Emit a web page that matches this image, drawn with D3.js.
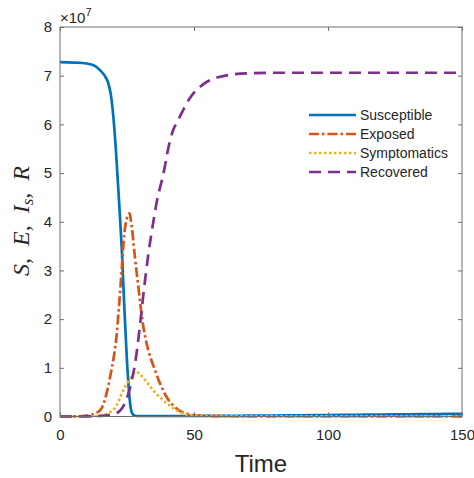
<!DOCTYPE html>
<html>
<head>
<meta charset="utf-8">
<script src="https://cdn.jsdelivr.net/npm/d3@7"></script>
<style>
  body { margin: 0; background: #fff; }
  text { font-family: "Liberation Sans", Arial, sans-serif; fill: #262626; }
</style>
</head>
<body>
<div id="chart"></div>
<script>
// values in units of 1e7
var time = [0, 5, 10, 13, 15, 16, 17, 18, 19, 20, 21, 22, 23, 24, 25, 25.5, 26, 26.5, 27, 27.5, 28, 29, 30,
  31, 32, 33, 34, 35, 36, 37, 38, 39, 40, 42, 44, 46, 48, 50, 52, 55, 58, 60, 65, 70, 80, 90, 100, 110, 120, 130, 140, 150];

var susceptible = [7.28, 7.27, 7.25, 7.2, 7.11, 7.05, 6.97, 6.85, 6.6, 6.1, 5.35, 4.45, 3.5, 2.25, 1.12, 0.7, 0.35, 0.14, 0.06, 0.03,
  0.015, 0.01, 0.01, 0.01, 0.01, 0.01, 0.01, 0.01, 0.01, 0.01, 0.01, 0.01, 0.01, 0.01, 0.01, 0.01, 0.011, 0.011, 0.011, 0.012, 0.012,
  0.012, 0.014, 0.016, 0.02, 0.025, 0.03, 0.035, 0.04, 0.045, 0.05, 0.055];

var exposed = [0, 0.002, 0.02, 0.06, 0.13, 0.22, 0.4, 0.62, 0.9, 1.2, 1.6, 2.25, 3.0, 3.75, 4.08, 4.15, 4.17, 4.0, 3.8, 3.52,
  3.25, 2.78, 2.3, 1.88, 1.58, 1.35, 1.17, 1.02, 0.87, 0.72, 0.6, 0.48, 0.38, 0.24, 0.14, 0.08, 0.05, 0.03, 0.02, 0.012, 0.008,
  0.006, 0.005, 0.004, 0.004, 0.004, 0.004, 0.004, 0.004, 0.004, 0.004, 0.004];

var symptomatic = [0, 0, 0.003, 0.01, 0.02, 0.03, 0.05, 0.07, 0.1, 0.14, 0.22, 0.33, 0.47, 0.58, 0.68, 0.73, 0.78, 0.82, 0.86, 0.88,
  0.9, 0.9, 0.86, 0.8, 0.73, 0.66, 0.59, 0.52, 0.46, 0.41, 0.36, 0.31, 0.27, 0.18, 0.11, 0.06, 0.03, 0.02, 0.014, 0.01, 0.007,
  0.006, 0.005, 0.004, 0.004, 0.004, 0.004, 0.004, 0.004, 0.004, 0.004, 0.004];

var recovered = [0, 0, 0.002, 0.005, 0.01, 0.015, 0.02, 0.03, 0.04, 0.05, 0.07, 0.1, 0.16, 0.25, 0.38, 0.47, 0.56, 0.67, 0.8, 0.93,
  1.08, 1.48, 1.95, 2.45, 2.92, 3.35, 3.72, 4.05, 4.38, 4.63, 4.85, 5.1, 5.4, 5.85, 6.08, 6.3, 6.5, 6.65, 6.76, 6.88, 6.95,
  6.98, 7.03, 7.05, 7.06, 7.06, 7.06, 7.06, 7.06, 7.06, 7.06, 7.06];

var xTicks = [0, 50, 100, 150];
var yTicks = [0, 1, 2, 3, 4, 5, 6, 7, 8];

var seriesNames = ["Susceptible", "Exposed", "Symptomatics", "Recovered"];
var seriesValues = [susceptible, exposed, symptomatic, recovered];
var seriesColors = ["#0072BD", "#D95319", "#EDB120", "#7E2F8E"];
var seriesDash = [null, "10,3,2.5,3", "2.5,2.5", "12,7"];

var svgWidth = 474;
var svgHeight = 478;
var margin = { top: 27, right: 12, bottom: 61.5, left: 60 };
var width = svgWidth - margin.left - margin.right;
var height = svgHeight - margin.top - margin.bottom;

var svg = d3.select("#chart")
  .append("svg")
  .attr("width", svgWidth)
  .attr("height", svgHeight);

var chartGroup = svg.append("g")
  .attr("transform", `translate(${margin.left},${margin.top})`);

var xScale = d3.scaleLinear().domain([0, 150]).range([0, width]);
var yScale = d3.scaleLinear().domain([0, 8]).range([height, 0]);

// lines
var line = d3.line()
  .x((d, i) => xScale(time[i]))
  .y(d => yScale(d))
  .curve(d3.curveMonotoneX);

var plotGroup = chartGroup.append("g");
// draw order: S, E, I, R
seriesValues.forEach(function(vals, k) {
  plotGroup.append("path")
    .datum(vals)
    .attr("d", line)
    .attr("fill", "none")
    .attr("stroke", seriesColors[k])
    .attr("stroke-width", 2.7)
    .attr("stroke-dasharray", seriesDash[k]);
});

// axes (ticks inside, mirrored box)
var axisColor = "#6e6e6e";
function styleAxis(g) {
  g.select(".domain").remove();
  g.selectAll(".tick line").attr("stroke", axisColor);
  g.selectAll(".tick text").attr("fill", "#262626").style("font-size", "15px")
    .style("font-family", "'Liberation Sans', Arial, sans-serif");
}

chartGroup.append("g")
  .attr("transform", `translate(0,${height})`)
  .call(d3.axisBottom(xScale).tickValues(xTicks).tickSize(-4).tickPadding(13))
  .call(styleAxis);

chartGroup.append("g")
  .call(d3.axisTop(xScale).tickValues(xTicks).tickSize(-4).tickFormat(""))
  .call(styleAxis);

chartGroup.append("g")
  .call(d3.axisLeft(yScale).tickValues(yTicks).tickSize(-4).tickPadding(8))
  .call(styleAxis);

chartGroup.append("g")
  .attr("transform", `translate(${width},0)`)
  .call(d3.axisRight(yScale).tickValues(yTicks).tickSize(-4).tickFormat(""))
  .call(styleAxis);

chartGroup.append("rect")
  .attr("x", 0).attr("y", 0)
  .attr("width", width).attr("height", height)
  .attr("fill", "none")
  .attr("stroke", axisColor)
  .attr("stroke-width", 1);

// exponent label
var expLabel = chartGroup.append("text")
  .attr("x", 0)
  .attr("y", -4)
  .style("font-size", "15px")
  .attr("fill", "#404040");
expLabel.append("tspan").text("\u00d710");
expLabel.append("tspan").attr("dy", -7).style("font-size", "11px").text("7");

// axis titles
chartGroup.append("text")
  .attr("x", width / 2)
  .attr("y", height + 55)
  .attr("text-anchor", "middle")
  .style("font-size", "24px")
  .text("Time");

var yLabel = svg.append("text")
  .attr("transform", "translate(29,221) rotate(-90)")
  .attr("text-anchor", "middle")
  .style("font-family", "'Liberation Serif', 'Times New Roman', serif")
  .style("font-size", "24px")
  .attr("fill", "#262626");
yLabel.append("tspan").style("font-style", "italic").text("S");
yLabel.append("tspan").text(",\u2002");
yLabel.append("tspan").style("font-style", "italic").text("E");
yLabel.append("tspan").text(",\u2002");
yLabel.append("tspan").style("font-style", "italic").text("I");
yLabel.append("tspan").style("font-style", "italic").style("font-size", "17px").attr("dy", 4).text("s");
yLabel.append("tspan").attr("dy", -4).text(",\u2002");
yLabel.append("tspan").style("font-style", "italic").text("R");

// legend
var legend = chartGroup.append("g")
  .attr("transform", `translate(${309 - margin.left},${115 - margin.top})`);

seriesNames.forEach(function(name, k) {
  var row = legend.append("g").attr("transform", `translate(0,${k * 19})`);
  row.append("line")
    .attr("x1", 0).attr("x2", 47)
    .attr("y1", 0).attr("y2", 0)
    .attr("stroke", seriesColors[k])
    .attr("stroke-width", 2.7)
    .attr("stroke-dasharray", seriesDash[k]);
  row.append("text")
    .attr("x", 51)
    .attr("y", 5)
    .style("font-size", "14px")
    .text(name);
});
</script>
</body>
</html>
